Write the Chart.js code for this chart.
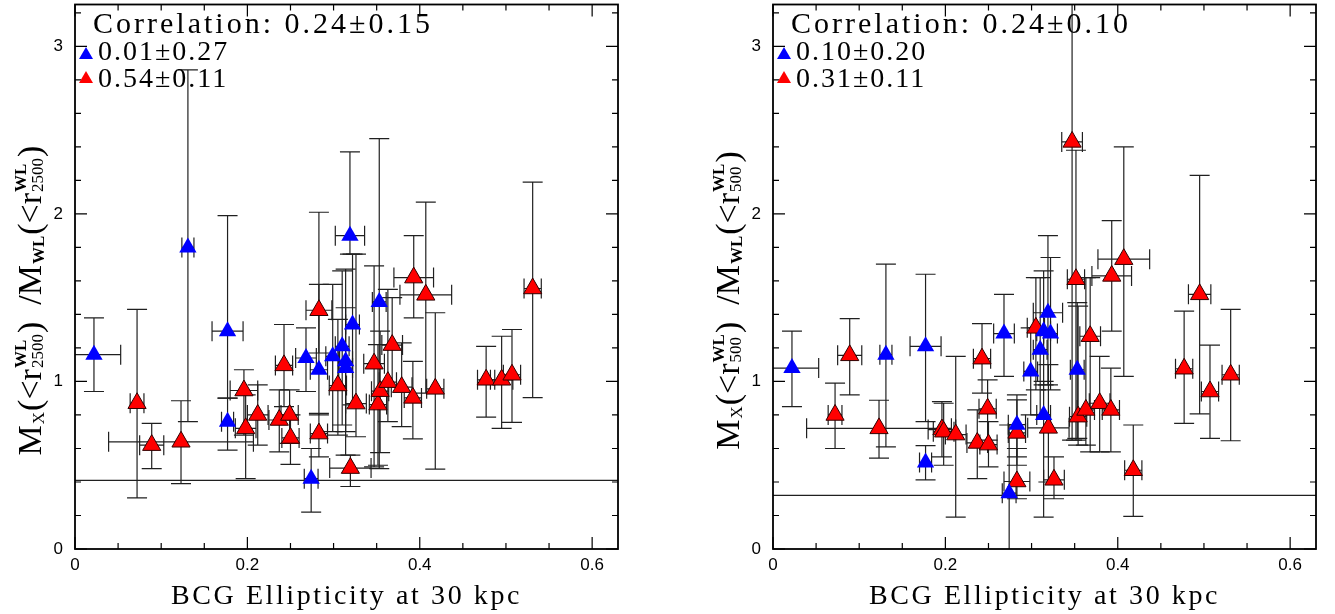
<!DOCTYPE html>
<html>
<head>
<meta charset="utf-8">
<script src="https://cdn.jsdelivr.net/npm/chart.js@4.4.1/dist/chart.umd.min.js"></script>
<style>
html, body { margin: 0; padding: 0; background: #fff; overflow: hidden; }
.panel { position: absolute; top: -7px; width: 637px; height: 621px; }
#p1 { left: 0; }
#p2 { left: 698px; }
</style>
</head>
<body>
<div class="panel" id="p1"><canvas id="c1"></canvas></div>
<div class="panel" id="p2"><canvas id="c2"></canvas></div>
<script>
// BCG ellipticity (same for both panels)
const blueEllip = [0.022, 0.131, 0.177, 0.177, 0.268, 0.274, 0.283, 0.299, 0.310, 0.314, 0.314, 0.319, 0.322, 0.353];
const blueEllipErr = [0.031, 0.007, 0.018, 0.007, 0.012, 0.008, 0.010, 0.008, 0.008, 0.008, 0.008, 0.017, 0.008, 0.008];
const redEllip = [0.072, 0.089, 0.123, 0.196, 0.198, 0.212, 0.237, 0.2425, 0.249, 0.250, 0.283, 0.283, 0.305, 0.3195, 0.326,
    0.347, 0.3515, 0.354, 0.363, 0.368, 0.379, 0.392, 0.393, 0.407, 0.418, 0.477, 0.495, 0.507, 0.531];
const redEllipErr = [0.008, 0.014, 0.084, 0.016, 0.012, 0.012, 0.012, 0.010, 0.010, 0.010, 0.015, 0.010, 0.010, 0.024, 0.012,
    0.012, 0.010, 0.010, 0.010, 0.012, 0.012, 0.010, 0.023, 0.030, 0.010, 0.010, 0.013, 0.010, 0.010];

// Mx/Mwl within r2500
const blue2500 = [1.16, 1.80, 1.30, 0.76, 1.14, 0.42, 1.07, 1.15, 1.21, 1.12, 1.08, 1.87, 1.34, 1.475];
const blue2500Lo = [0.94, 0.76, 0.90, 0.59, 0.94, 0.22, 0.80, 0.70, 0.74, 0.56, 0.70, 1.76, 0.86, 0.48];
const blue2500Hi = [1.38, 2.86, 1.99, 0.90, 1.32, 0.60, 1.58, 1.58, 1.66, 1.67, 1.44, 2.37, 1.76, 2.45];
const red2500 = [0.87, 0.62, 0.64, 0.946, 0.72, 0.80, 0.77, 1.096, 0.80, 0.663, 1.425, 0.689, 0.976, 0.483, 0.868,
    1.106, 0.862, 0.942, 0.996, 1.217, 0.966, 0.902, 1.62, 1.517, 0.956, 1.01, 1.01, 1.04, 1.555];
const red2500Lo = [0.305, 0.48, 0.39, 0.68, 0.42, 0.62, 0.58, 0.85, 0.63, 0.505, 1.17, 0.55, 0.68, 0.373, 0.67,
    0.49, 0.50, 0.575, 0.76, 0.97, 0.73, 0.657, 1.38, 0.93, 0.477, 0.787, 0.72, 0.756, 0.904];
const red2500Hi = [1.43, 0.75, 0.885, 1.07, 0.92, 0.98, 0.95, 1.34, 0.95, 0.80, 2.01, 0.81, 1.37, 0.56, 1.76,
    1.69, 1.22, 1.30, 1.55, 1.50, 1.23, 1.12, 1.87, 2.07, 1.41, 1.21, 1.27, 1.31, 2.19];

// Mx/Mwl within r500
const blue500 = [1.08, 1.16, 1.21, 0.517, 1.286, 0.333, 0.742, 1.06, 1.19, 1.30, 0.80, 1.41, 1.286, 1.07];
const blue500Lo = [0.85, 0.61, 0.76, 0.413, 1.03, -0.1, 0.55, 0.80, 0.80, 0.98, 0.19, 0.98, 0.95, 0.66];
const blue500Hi = [1.30, 1.70, 1.64, 0.617, 1.52, 0.74, 0.92, 1.32, 1.62, 1.66, 1.00, 1.87, 1.74, 1.47];
const red500 = [0.80, 1.156, 0.72, 0.713, 0.70, 0.683, 0.633, 1.136, 0.837, 0.623, 0.403, 0.693, 1.32, 0.723, 0.413,
    2.43, 1.61, 0.79, 0.83, 1.27, 0.87, 0.83, 1.63, 1.73, 0.47, 1.076, 1.52, 0.94, 1.04];
const red500Lo = [0.60, 0.92, 0.543, 0.55, 0.50, 0.19, 0.42, 0.93, 0.65, 0.49, 0.30, 0.50, 0.95, 0.40, 0.30,
    0.65, 0.65, 0.62, 0.62, 0.58, 0.58, 0.58, 1.30, 1.03, 0.195, 0.75, 0.806, 0.66, 0.646];
const red500Hi = [0.99, 1.375, 0.888, 0.88, 0.87, 1.15, 0.83, 1.345, 1.01, 0.76, 0.60, 0.89, 1.62, 1.10, 0.55,
    3.40, 2.38, 1.45, 1.62, 1.62, 1.15, 1.08, 1.96, 2.40, 0.74, 1.42, 2.23, 1.217, 1.43];

// horizontal reference lines
const refLine2500 = 0.41;
const refLine500 = 0.32;

// axes
const xMajorTicks = [0, 0.2, 0.4, 0.6];
const xMinorTicks = [0.05, 0.1, 0.15, 0.25, 0.3, 0.35, 0.45, 0.5, 0.55];
const yMajorTicks = [0, 1, 2, 3];
const yMinorTicks = [0.2, 0.4, 0.6, 0.8, 1.2, 1.4, 1.6, 1.8, 2.2, 2.4, 2.6, 2.8, 3.2];
const xRange = [0, 0.63];
const yRange = [0, 3.25];

const SERIF = '"Liberation Serif", "DejaVu Serif", serif';
const SANS = '"Liberation Sans", Arial, sans-serif';
const SHIFT = 7; // panels sit 7px above the page top (see .panel)

Chart.defaults.font.family = SANS;
Chart.defaults.color = '#000';

function makePoints(xs, ys) {
    return xs.map((x, i) => ({ x: x, y: ys[i] }));
}

function makeErrors(dx, lo, hi) {
    return dx.map((d, i) => ({ dx: d, lo: lo[i], hi: hi[i] }));
}

const errorBars = {
    id: 'errorBars',
    beforeDatasetsDraw(chart) {
        const { ctx, chartArea, scales: { x, y } } = chart;
        const cap = 10;
        ctx.save();
        ctx.beginPath();
        ctx.rect(chartArea.left, chartArea.top, chartArea.width, chartArea.height);
        ctx.clip();
        ctx.strokeStyle = '#202020';
        ctx.lineWidth = 1.2;
        // reference line
        const ry = y.getPixelForValue(chart.options.plugins.errorBars.refLine);
        ctx.beginPath();
        ctx.moveTo(chartArea.left, ry);
        ctx.lineTo(chartArea.right, ry);
        ctx.stroke();
        chart.data.datasets.forEach((ds) => {
            ds.errors.forEach((e, i) => {
                const pt = ds.data[i];
                const px = x.getPixelForValue(pt.x);
                const py = y.getPixelForValue(pt.y);
                const yl = y.getPixelForValue(e.lo);
                const yh = y.getPixelForValue(e.hi);
                const xl = x.getPixelForValue(pt.x - e.dx);
                const xr = x.getPixelForValue(pt.x + e.dx);
                ctx.beginPath();
                ctx.moveTo(px, yl); ctx.lineTo(px, yh);
                ctx.moveTo(px - cap, yl); ctx.lineTo(px + cap, yl);
                ctx.moveTo(px - cap, yh); ctx.lineTo(px + cap, yh);
                ctx.moveTo(xl, py); ctx.lineTo(xr, py);
                ctx.moveTo(xl, py - cap); ctx.lineTo(xl, py + cap);
                ctx.moveTo(xr, py - cap); ctx.lineTo(xr, py + cap);
                ctx.stroke();
            });
        });
        ctx.restore();
    },
};

const frameTicks = {
    id: 'frameTicks',
    afterDraw(chart) {
        const { ctx, chartArea: a, scales: { x, y } } = chart;
        ctx.save();
        ctx.strokeStyle = '#000';
        ctx.lineWidth = 1.8;
        ctx.strokeRect(a.left, a.top, a.width, a.height);
        ctx.lineWidth = 1.2;
        ctx.beginPath();
        const xt = (v, len) => {
            const p = x.getPixelForValue(v);
            ctx.moveTo(p, a.bottom); ctx.lineTo(p, a.bottom - len);
            ctx.moveTo(p, a.top); ctx.lineTo(p, a.top + len);
        };
        const yt = (v, len) => {
            const p = y.getPixelForValue(v);
            ctx.moveTo(a.left, p); ctx.lineTo(a.left + len, p);
            ctx.moveTo(a.right, p); ctx.lineTo(a.right - len, p);
        };
        xMajorTicks.forEach((v) => xt(v, 12));
        xMinorTicks.forEach((v) => xt(v, 6));
        yMajorTicks.forEach((v) => yt(v, 12));
        yMinorTicks.forEach((v) => yt(v, 6));
        ctx.stroke();
        ctx.restore();
    },
};

function legendTriangle(ctx, cx, cy, color) {
    ctx.beginPath();
    ctx.moveTo(cx, cy - 7);
    ctx.lineTo(cx + 7, cy + 5);
    ctx.lineTo(cx - 7, cy + 5);
    ctx.closePath();
    ctx.fillStyle = color;
    ctx.fill();
}

function drawYTitle(ctx, cx, cy, radius) {
    const big = 34, small = 17;
    const parts = [
        { t: 'M', s: big },
        { t: 'X', s: small, dy: 3 },
        { t: '(<r', s: big },
        { stack: [{ t: 'WL', s: small, dy: -15, bold: true }, { t: radius, s: small, dy: 2 }] },
        { t: ')', s: big },
        { gap: 16 },
        { t: '/M', s: big },
        { t: 'WL', s: small, dy: 3, bold: true },
        { t: '(<r', s: big },
        { stack: [{ t: 'WL', s: small, dy: -15, bold: true }, { t: radius, s: small, dy: 2 }] },
        { t: ')', s: big },
    ];
    const font = (p) => (p.bold ? 'bold ' : '') + p.s + 'px ' + SERIF;
    const width = (p) => {
        if (p.gap) return p.gap;
        if (p.stack) return Math.max(...p.stack.map(width));
        ctx.font = font(p);
        return ctx.measureText(p.t).width + 1;
    };
    ctx.save();
    ctx.letterSpacing = '0px';
    ctx.textAlign = 'left';
    ctx.textBaseline = 'alphabetic';
    const total = parts.reduce((acc, p) => acc + width(p), 0);
    ctx.translate(cx, cy);
    ctx.rotate(-Math.PI / 2);
    ctx.fillStyle = '#000';
    let u = -total / 2;
    parts.forEach((p) => {
        const w = width(p);
        const items = p.stack ? p.stack : (p.gap ? [] : [p]);
        items.forEach((q) => {
            ctx.font = font(q);
            ctx.fillText(q.t, u, q.dy || 0);
        });
        u += w;
    });
    ctx.restore();
}

const labels = {
    id: 'labels',
    afterDraw(chart) {
        const o = chart.options.plugins.labels;
        const { ctx, chartArea: a } = chart;
        ctx.save();
        ctx.fillStyle = '#000';
        ctx.textBaseline = 'alphabetic';
        ctx.textAlign = 'left';
        ctx.letterSpacing = '3px';
        ctx.font = '30px ' + SERIF;
        ctx.fillText(o.corr, a.left + 18, 33 + SHIFT);
        ctx.letterSpacing = '2px';
        ctx.font = '28px ' + SERIF;
        legendTriangle(ctx, a.left + 11, 54 + SHIFT, '#0000ff');
        ctx.fillStyle = '#000';
        ctx.fillText(o.blue, a.left + 23, 60 + SHIFT);
        legendTriangle(ctx, a.left + 11, 78 + SHIFT, '#ff0000');
        ctx.fillStyle = '#000';
        ctx.fillText(o.red, a.left + 23, 87 + SHIFT);
        ctx.textAlign = 'center';
        ctx.letterSpacing = '2.6px';
        ctx.font = '28px ' + SERIF;
        ctx.fillText('BCG Ellipticity at 30 kpc', (a.left + a.right) / 2, 604 + SHIFT);
        ctx.restore();
        drawYTitle(ctx, 41, 300 + SHIFT, o.radius);
    },
};

function buildChart(canvasId, blueY, blueLo, blueHi, redY, redLo, redHi, refLine, text) {
    const ctx = document.getElementById(canvasId).getContext('2d');
    return new Chart(ctx, {
        type: 'scatter',
        data: {
            datasets: [
                {
                    label: 'blue',
                    data: makePoints(blueEllip, blueY),
                    errors: makeErrors(blueEllipErr, blueLo, blueHi),
                    pointStyle: 'triangle',
                    pointRadius: 10,
                    backgroundColor: '#0000ff',
                    borderColor: '#0000ff',
                    borderWidth: 0,
                },
                {
                    label: 'red',
                    data: makePoints(redEllip, redY),
                    errors: makeErrors(redEllipErr, redLo, redHi),
                    pointStyle: 'triangle',
                    pointRadius: 10.5,
                    backgroundColor: '#ff0000',
                    borderColor: '#300000',
                    borderWidth: 1,
                },
            ],
        },
        options: {
            responsive: true,
            maintainAspectRatio: false,
            animation: false,
            layout: { padding: { left: 0, right: 19, top: 5, bottom: 0 } },
            scales: {
                x: {
                    type: 'linear',
                    min: xRange[0],
                    max: xRange[1],
                    grid: { display: false, drawTicks: false },
                    border: { display: false },
                    afterBuildTicks: (s) => { s.ticks = xMajorTicks.map((v) => ({ value: v })); },
                    afterFit: (s) => { s.height = 65; },
                    ticks: {
                        color: '#000',
                        padding: 6,
                        maxRotation: 0,
                        autoSkip: false,
                        font: { family: SANS, size: 17 },
                        callback: (v) => String(v),
                    },
                },
                y: {
                    type: 'linear',
                    min: yRange[0],
                    max: yRange[1],
                    // tickLength only offsets the labels; the marks themselves are drawn by frameTicks
                    grid: { display: false, drawTicks: true, tickLength: 12 },
                    border: { display: false },
                    afterBuildTicks: (s) => { s.ticks = yMajorTicks.map((v) => ({ value: v })); },
                    afterFit: (s) => { s.width = 75; },
                    ticks: {
                        color: '#000',
                        padding: 0,
                        autoSkip: false,
                        font: { family: SANS, size: 17, lineHeight: 0.5 },
                        callback: (v) => String(v),
                    },
                },
            },
            plugins: {
                legend: { display: false },
                tooltip: { enabled: false },
                errorBars: { refLine: refLine },
                labels: text,
            },
        },
        plugins: [errorBars, frameTicks, labels],
    });
}

buildChart('c1', blue2500, blue2500Lo, blue2500Hi, red2500, red2500Lo, red2500Hi, refLine2500,
    { corr: 'Correlation: 0.24±0.15', blue: '0.01±0.27', red: '0.54±0.11', radius: '2500' });
buildChart('c2', blue500, blue500Lo, blue500Hi, red500, red500Lo, red500Hi, refLine500,
    { corr: 'Correlation: 0.24±0.10', blue: '0.10±0.20', red: '0.31±0.11', radius: '500' });
</script>
</body>
</html>
